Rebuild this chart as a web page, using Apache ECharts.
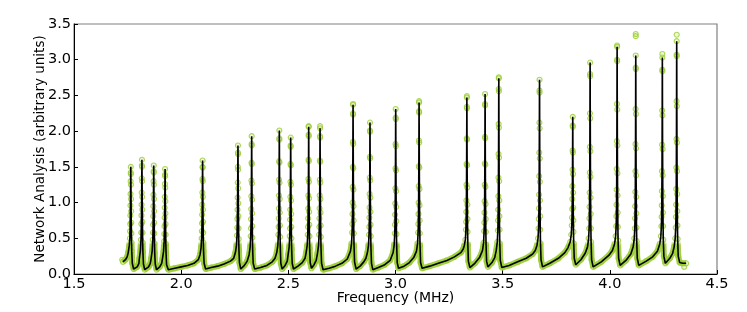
<!DOCTYPE html>
<html>
<head>
<meta charset="utf-8">
<script src="https://cdn.jsdelivr.net/npm/echarts@6/dist/echarts.min.js"></script>
<style>
html,body{margin:0;padding:0;background:#fff;}
#chart{width:747px;height:312px;}
</style>
</head>
<body>
<div id="chart"></div>
<script>
// Axis ticks
const xTicks = [1.5, 2.0, 2.5, 3.0, 3.5, 4.0, 4.5];
const yTicks = [0.0, 0.5, 1.0, 1.5, 2.0, 2.5, 3.0, 3.5];

// Fitted model curve (black line): [frequency MHz, value]
const fitPoints = [
  [1.728,0.17],[1.740,0.20],[1.748,0.24],
  [1.753,0.30],[1.758,0.40],[1.7605,0.50],[1.7615,0.60],[1.7622,0.70],[1.7628,0.82],[1.7633,0.96],[1.7638,1.12],[1.7643,1.30],[1.7647,1.42],[1.765,1.50],[1.7653,1.40],[1.7657,1.25],[1.7662,1.05],[1.7667,0.88],[1.7672,0.72],[1.7678,0.57],[1.7685,0.44],[1.7695,0.32],[1.772,0.15],[1.778,0.07],
  [1.795,0.10],[1.803,0.15],
  [1.805,0.22],[1.810,0.33],[1.8125,0.48],[1.8135,0.58],[1.8142,0.70],[1.8148,0.82],[1.8153,0.97],[1.8158,1.14],[1.8163,1.34],[1.8167,1.52],[1.817,1.60],[1.8173,1.50],[1.8177,1.30],[1.8182,1.08],[1.8187,0.90],[1.8192,0.73],[1.8198,0.58],[1.8205,0.44],[1.8215,0.31],[1.824,0.14],[1.830,0.06],
  [1.848,0.10],[1.856,0.15],
  [1.860,0.22],[1.865,0.33],[1.8675,0.48],[1.8685,0.58],[1.8692,0.69],[1.8698,0.81],[1.8703,0.95],[1.8708,1.11],[1.8713,1.30],[1.8717,1.44],[1.872,1.52],[1.8723,1.42],[1.8727,1.25],[1.8732,1.05],[1.8737,0.88],[1.8742,0.72],[1.8748,0.57],[1.8755,0.43],[1.8765,0.30],[1.879,0.14],[1.885,0.06],
  [1.900,0.10],[1.909,0.15],
  [1.913,0.22],[1.918,0.32],[1.9205,0.46],[1.9215,0.56],[1.9222,0.67],[1.9228,0.79],[1.9233,0.93],[1.9238,1.08],[1.9243,1.26],[1.9247,1.39],[1.925,1.47],[1.9253,1.37],[1.9257,1.21],[1.9262,1.02],[1.9267,0.85],[1.9272,0.70],[1.9278,0.55],[1.9285,0.42],[1.9295,0.29],[1.932,0.13],[1.940,0.06],
  [1.970,0.08],[2.000,0.10],[2.030,0.12],[2.060,0.15],[2.080,0.20],
  [2.088,0.27],[2.093,0.37],[2.0955,0.50],[2.0965,0.60],[2.0972,0.71],[2.0978,0.83],[2.0983,0.97],[2.0988,1.14],[2.0993,1.33],[2.0997,1.50],[2.100,1.59],[2.1003,1.49],[2.1007,1.30],[2.1012,1.08],[2.1017,0.90],[2.1022,0.73],[2.1028,0.58],[2.1035,0.44],[2.1045,0.32],[2.107,0.15],[2.114,0.07],
  [2.140,0.09],[2.170,0.11],[2.200,0.14],[2.230,0.18],[2.245,0.22],
  [2.253,0.30],[2.258,0.40],[2.2605,0.54],[2.2615,0.65],[2.2622,0.77],[2.2628,0.90],[2.2633,1.07],[2.2638,1.28],[2.2643,1.50],[2.2647,1.70],[2.265,1.80],[2.2653,1.68],[2.2657,1.46],[2.2662,1.20],[2.2667,0.99],[2.2672,0.81],[2.2678,0.64],[2.2685,0.49],[2.2695,0.34],[2.272,0.16],[2.278,0.07],
  [2.295,0.12],[2.308,0.18],
  [2.317,0.27],[2.322,0.38],[2.3245,0.53],[2.3255,0.64],[2.3262,0.77],[2.3268,0.91],[2.3273,1.09],[2.3278,1.31],[2.3283,1.56],[2.3287,1.82],[2.329,1.93],[2.3293,1.80],[2.3297,1.54],[2.3302,1.27],[2.3307,1.04],[2.3312,0.85],[2.3318,0.67],[2.3325,0.51],[2.3335,0.35],[2.336,0.15],[2.343,0.07],
  [2.370,0.09],[2.400,0.12],[2.425,0.17],[2.438,0.22],
  [2.446,0.30],[2.451,0.40],[2.4535,0.55],[2.4545,0.66],[2.4552,0.78],[2.4558,0.92],[2.4563,1.10],[2.4568,1.32],[2.4573,1.58],[2.4577,1.90],[2.458,2.01],[2.4583,1.88],[2.4587,1.56],[2.4592,1.28],[2.4597,1.05],[2.4602,0.86],[2.4608,0.68],[2.4615,0.52],[2.4625,0.36],[2.465,0.15],[2.471,0.07],
  [2.485,0.12],[2.495,0.18],
  [2.499,0.27],[2.504,0.38],[2.5065,0.53],[2.5075,0.64],[2.5082,0.76],[2.5088,0.90],[2.5093,1.08],[2.5098,1.29],[2.5103,1.54],[2.5107,1.80],[2.511,1.91],[2.5113,1.78],[2.5117,1.52],[2.5122,1.25],[2.5127,1.03],[2.5132,0.84],[2.5138,0.66],[2.5145,0.50],[2.5155,0.35],[2.518,0.15],[2.524,0.07],
  [2.545,0.11],[2.565,0.16],[2.578,0.22],
  [2.583,0.30],[2.588,0.40],[2.5905,0.55],[2.5915,0.66],[2.5922,0.78],[2.5928,0.92],[2.5933,1.10],[2.5938,1.33],[2.5943,1.60],[2.5947,1.95],[2.595,2.06],[2.5953,1.93],[2.5957,1.58],[2.5962,1.29],[2.5967,1.06],[2.5972,0.87],[2.5978,0.69],[2.5985,0.53],[2.5995,0.36],[2.602,0.16],[2.608,0.08],
  [2.620,0.13],[2.630,0.19],
  [2.636,0.29],[2.641,0.40],[2.6435,0.55],[2.6445,0.66],[2.6452,0.78],[2.6458,0.92],[2.6463,1.10],[2.6468,1.32],[2.6473,1.59],[2.6477,1.93],[2.648,2.04],[2.6483,1.91],[2.6487,1.57],[2.6492,1.28],[2.6497,1.05],[2.6502,0.86],[2.6508,0.68],[2.6515,0.52],[2.6525,0.36],[2.655,0.15],[2.662,0.06],
  [2.690,0.08],[2.720,0.11],[2.750,0.15],[2.775,0.21],
  [2.790,0.32],[2.795,0.43],[2.7975,0.58],[2.7985,0.70],[2.7992,0.84],[2.7998,1.00],[2.8003,1.22],[2.8008,1.50],[2.8013,1.85],[2.8017,2.25],[2.802,2.37],[2.8023,2.23],[2.8027,1.82],[2.8032,1.48],[2.8037,1.18],[2.8042,0.95],[2.8048,0.75],[2.8055,0.57],[2.8065,0.40],[2.809,0.17],[2.816,0.07],
  [2.835,0.11],[2.852,0.17],[2.862,0.22],
  [2.869,0.30],[2.874,0.40],[2.8765,0.55],[2.8775,0.66],[2.8782,0.79],[2.8788,0.93],[2.8793,1.12],[2.8798,1.35],[2.8803,1.64],[2.8807,2.01],[2.881,2.12],[2.8813,1.99],[2.8817,1.62],[2.8822,1.31],[2.8827,1.07],[2.8832,0.87],[2.8838,0.69],[2.8845,0.53],[2.8855,0.36],[2.888,0.15],[2.894,0.06],
  [2.920,0.09],[2.950,0.13],[2.975,0.19],
  [2.989,0.30],[2.994,0.41],[2.9965,0.57],[2.9975,0.69],[2.9982,0.83],[2.9988,0.99],[2.9993,1.20],[2.9998,1.48],[3.0003,1.82],[3.0007,2.19],[3.001,2.31],[3.0013,2.17],[3.0017,1.79],[3.0022,1.45],[3.0027,1.16],[3.0032,0.94],[3.0038,0.74],[3.0045,0.56],[3.0055,0.39],[3.008,0.16],[3.014,0.08],
  [3.040,0.11],[3.065,0.16],[3.085,0.23],
  [3.098,0.32],[3.103,0.43],[3.1055,0.58],[3.1065,0.70],[3.1072,0.84],[3.1078,1.00],[3.1083,1.23],[3.1088,1.51],[3.1093,1.87],[3.1097,2.28],[3.110,2.40],[3.1103,2.26],[3.1107,1.84],[3.1112,1.49],[3.1117,1.19],[3.1122,0.96],[3.1128,0.75],[3.1135,0.57],[3.1145,0.40],[3.117,0.16],[3.124,0.08],
  [3.160,0.11],[3.200,0.15],[3.240,0.19],[3.275,0.24],[3.305,0.30],[3.316,0.35],
  [3.321,0.40],[3.326,0.48],[3.3285,0.62],[3.3295,0.73],[3.3302,0.87],[3.3308,1.03],[3.3313,1.25],[3.3318,1.54],[3.3323,1.90],[3.3327,2.34],[3.333,2.47],[3.3333,2.32],[3.3337,1.88],[3.3342,1.52],[3.3347,1.21],[3.3352,0.97],[3.3358,0.77],[3.3365,0.59],[3.3375,0.41],[3.340,0.18],[3.347,0.09],
  [3.370,0.15],[3.392,0.23],
  [3.406,0.33],[3.411,0.44],[3.4135,0.60],[3.4145,0.72],[3.4152,0.86],[3.4158,1.02],[3.4163,1.25],[3.4168,1.55],[3.4173,1.92],[3.4177,2.38],[3.418,2.52],[3.4183,2.36],[3.4187,1.90],[3.4192,1.53],[3.4197,1.22],[3.4202,0.98],[3.4208,0.77],[3.4215,0.59],[3.4225,0.41],[3.425,0.18],[3.431,0.10],
  [3.450,0.16],[3.463,0.23],
  [3.470,0.33],[3.475,0.45],[3.4775,0.61],[3.4785,0.75],[3.4792,0.90],[3.4798,1.09],[3.4803,1.35],[3.4808,1.68],[3.4813,2.10],[3.4817,2.59],[3.482,2.74],[3.4823,2.56],[3.4827,2.05],[3.4832,1.63],[3.4837,1.30],[3.4842,1.03],[3.4848,0.81],[3.4855,0.62],[3.4865,0.43],[3.489,0.19],[3.496,0.09],
  [3.530,0.12],[3.570,0.17],[3.610,0.22],[3.640,0.28],[3.652,0.33],
  [3.660,0.40],[3.665,0.50],[3.6675,0.64],[3.6685,0.77],[3.6692,0.92],[3.6698,1.11],[3.6703,1.37],[3.6708,1.70],[3.6713,2.12],[3.6717,2.57],[3.672,2.72],[3.6723,2.54],[3.6727,2.04],[3.6732,1.62],[3.6737,1.29],[3.6742,1.03],[3.6748,0.81],[3.6755,0.62],[3.6765,0.43],[3.679,0.20],[3.686,0.10],
  [3.720,0.15],[3.760,0.22],[3.790,0.30],[3.805,0.37],
  [3.815,0.45],[3.820,0.55],[3.8225,0.68],[3.8235,0.79],[3.8242,0.91],[3.8248,1.05],[3.8253,1.23],[3.8258,1.46],[3.8263,1.73],[3.8267,2.08],[3.827,2.20],[3.8273,2.06],[3.8277,1.70],[3.8282,1.40],[3.8287,1.14],[3.8292,0.93],[3.8298,0.75],[3.8305,0.59],[3.8315,0.43],[3.834,0.22],[3.841,0.13],
  [3.865,0.20],[3.885,0.29],
  [3.896,0.38],[3.901,0.50],[3.9035,0.64],[3.9045,0.78],[3.9052,0.94],[3.9058,1.14],[3.9063,1.42],[3.9068,1.78],[3.9073,2.25],[3.9077,2.80],[3.908,2.96],[3.9083,2.77],[3.9087,2.18],[3.9092,1.72],[3.9097,1.36],[3.9102,1.07],[3.9108,0.84],[3.9115,0.64],[3.9125,0.45],[3.915,0.20],[3.922,0.10],
  [3.960,0.17],[3.995,0.26],[4.012,0.33],
  [4.022,0.42],[4.027,0.53],[4.0295,0.67],[4.0305,0.81],[4.0312,0.97],[4.0318,1.18],[4.0323,1.47],[4.0328,1.86],[4.0333,2.38],[4.0337,3.00],[4.034,3.18],[4.0343,2.98],[4.0347,2.30],[4.0352,1.80],[4.0357,1.41],[4.0362,1.10],[4.0368,0.86],[4.0375,0.66],[4.0385,0.47],[4.041,0.22],[4.048,0.12],
  [4.075,0.19],[4.098,0.28],
  [4.109,0.38],[4.114,0.50],[4.1165,0.64],[4.1175,0.78],[4.1182,0.95],[4.1188,1.15],[4.1193,1.44],[4.1198,1.82],[4.1203,2.31],[4.1207,2.89],[4.121,3.06],[4.1213,2.87],[4.1217,2.24],[4.1222,1.76],[4.1227,1.38],[4.1232,1.08],[4.1238,0.85],[4.1245,0.65],[4.1255,0.46],[4.128,0.22],[4.135,0.12],
  [4.170,0.18],[4.200,0.24],[4.222,0.32],
  [4.233,0.42],[4.238,0.53],[4.2405,0.67],[4.2415,0.80],[4.2422,0.96],[4.2428,1.16],[4.2433,1.44],[4.2438,1.81],[4.2443,2.29],[4.2447,2.86],[4.245,3.03],[4.2453,2.84],[4.2457,2.22],[4.2462,1.75],[4.2467,1.38],[4.2472,1.09],[4.2478,0.86],[4.2485,0.67],[4.2495,0.48],[4.252,0.25],[4.259,0.15],
  [4.280,0.22],[4.293,0.29],
  [4.300,0.38],[4.305,0.50],[4.3075,0.65],[4.3085,0.80],[4.3092,0.97],[4.3098,1.19],[4.3103,1.49],[4.3108,1.89],[4.3113,2.42],[4.3117,3.07],[4.312,3.26],[4.3123,3.05],[4.3127,2.35],[4.3132,1.84],[4.3137,1.44],[4.3142,1.12],[4.3148,0.88],[4.3155,0.68],[4.3165,0.49],[4.319,0.25],[4.326,0.16],
  [4.340,0.15],[4.356,0.15]
];

// Measured points that sit off the fitted curve (green circles)
const extraPoints = [
  [1.725,0.20],[2.595,2.07],[2.648,2.07],[2.802,2.38],[3.110,2.42],[3.333,2.49],
  [3.482,2.755],[4.034,3.20],[4.121,3.33],[4.121,3.36],[4.245,3.08],[4.312,3.35],[4.347,0.10]
];

// Level up to which the dense measured points form a solid band
const bandTop = 0.45;

const GREEN = '#9acd32';
const FONT = 'DejaVu Sans';

const chart = echarts.init(document.getElementById('chart'), null, {renderer:'canvas'});
chart.setOption({
  animation: false,
  backgroundColor: '#fff',
  grid: {left:74, right:30, top:24, bottom:38, containLabel:false, outerBoundsMode:'none',
         show:true, borderColor:'#808080', borderWidth:1.2},
  xAxis: {
    type:'value', min:xTicks[0], max:xTicks[xTicks.length-1], interval:0.5,
    name:'Frequency (MHz)', nameLocation:'middle', nameGap:17, nameMoveOverlap:false,
    nameTextStyle:{fontFamily:FONT, fontSize:14, color:'#000'},
    axisLine:{show:true, onZero:false, lineStyle:{color:'#000', width:1}},
    axisTick:{show:true, inside:true, length:4, lineStyle:{color:'#000'}},
    axisLabel:{fontFamily:FONT, fontSize:14.5, color:'#000', margin:3, formatter:v=>v.toFixed(1)},
    splitLine:{show:false}
  },
  yAxis: {
    type:'value', min:yTicks[0], max:yTicks[yTicks.length-1], interval:0.5,
    name:'Network Analysis (arbitrary units)', nameLocation:'middle', nameGap:27, nameMoveOverlap:false,
    nameTextStyle:{fontFamily:FONT, fontSize:13.5, color:'#000'},
    axisLine:{show:true, onZero:false, lineStyle:{color:'#000', width:1}},
    axisTick:{show:true, inside:true, length:4, lineStyle:{color:'#000'}},
    axisLabel:{fontFamily:FONT, fontSize:14.5, color:'#000', margin:3, formatter:v=>v.toFixed(1)},
    splitLine:{show:false}
  },
  series: [
    { // green band of dense measured points near the baseline
      type:'line', data:fitPoints, showSymbol:false, symbol:'none', silent:true,
      lineStyle:{width:6, color:'rgba(154,205,50,0.9)'}, z:1
    },
    { // measured points (green circles)
      type:'scatter', data:fitPoints.concat(extraPoints), symbol:'circle', symbolSize:5,
      itemStyle:{color:'rgba(154,205,50,0.2)', borderColor:GREEN, borderWidth:1.1}, z:2
    },
    { // fitted curve
      type:'line', data:fitPoints, showSymbol:false, symbol:'none',
      lineStyle:{color:'#000', width:1.6}, z:3
    }
  ]
});

// restrict the solid band to the low-value region using the axis scale
const yTopPx = chart.convertToPixel({yAxisIndex:0}, bandTop);
const yZeroPx = chart.convertToPixel({yAxisIndex:0}, 0);
chart.setOption({
  series: [{
    lineStyle:{
      width:6,
      color:{
        type:'linear', x:0, y:yTopPx - 1, x2:0, y2:yZeroPx, global:true,
        colorStops:[
          {offset:0, color:'rgba(154,205,50,0)'},
          {offset:0.12, color:'rgba(154,205,50,0.9)'},
          {offset:1, color:'rgba(154,205,50,0.9)'}
        ]
      }
    }
  }]
});
</script>
</body>
</html>
